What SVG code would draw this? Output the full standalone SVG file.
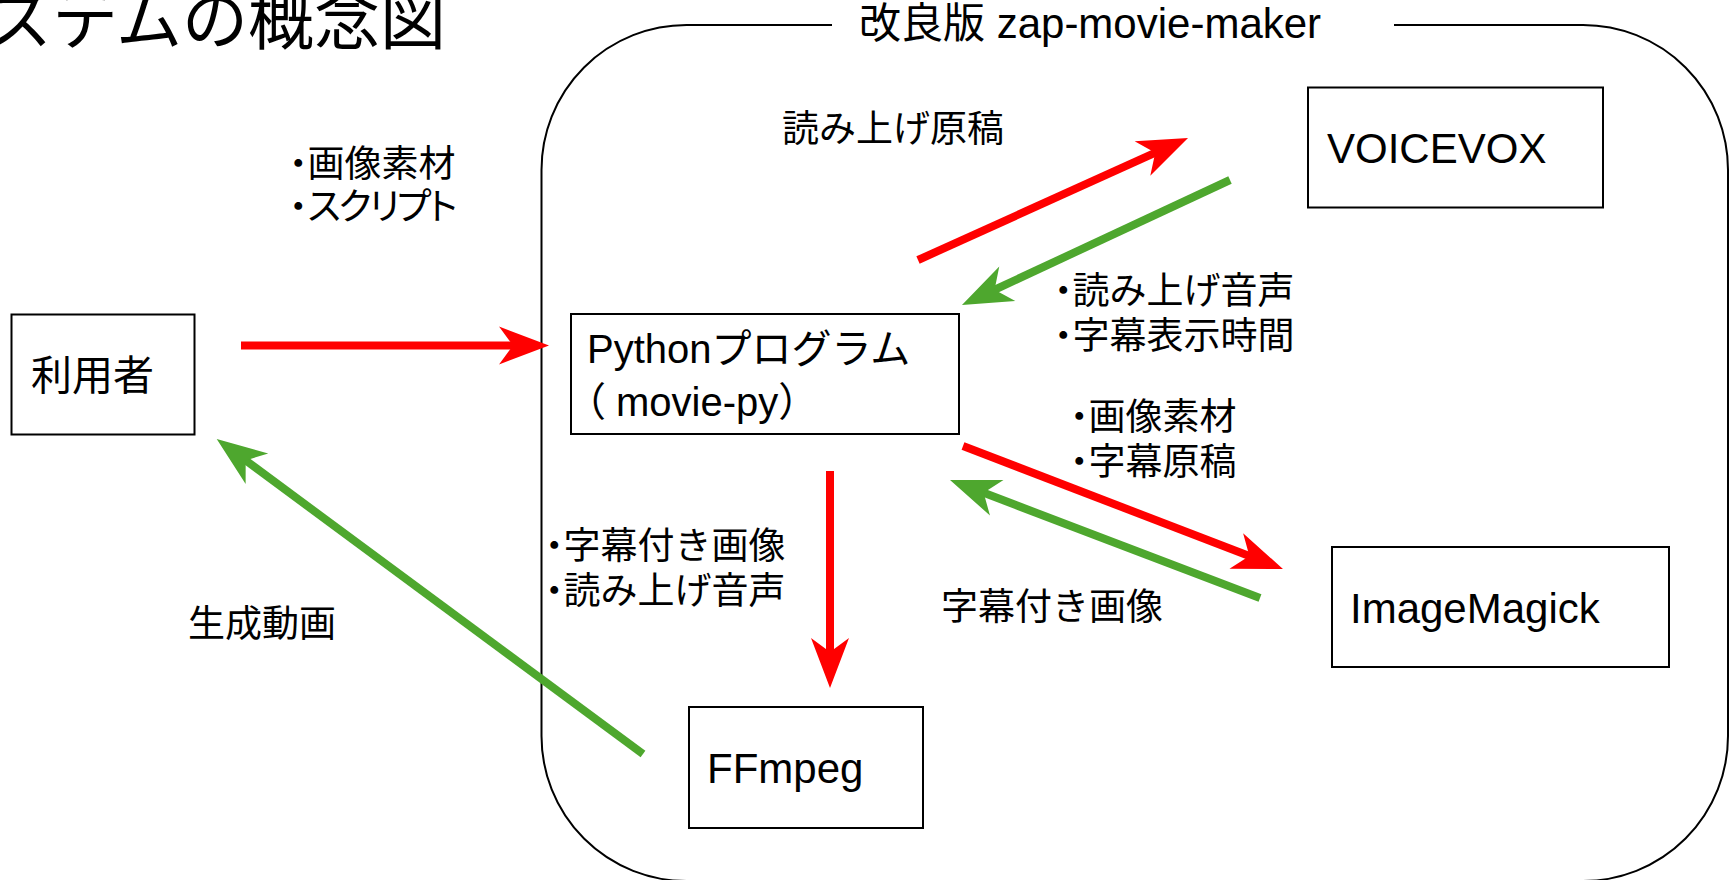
<svg xmlns="http://www.w3.org/2000/svg" width="1729" height="880" viewBox="0 0 1729 880">
<style>
text{font-family:"Liberation Sans","Noto Sans CJK JP",sans-serif;fill:#000}
.box{fill:#fff;stroke:#000;stroke-width:2}
.frame{fill:none;stroke:#000;stroke-width:2}
.n{font-size:42px}
.l{font-size:37px}
.b{font-feature-settings:"halt"}
.p{font-feature-settings:"palt";letter-spacing:-2.4px}
.red{stroke:#FF0000;stroke-width:8;fill:none}
.green{stroke:#4EA72E;stroke-width:8;fill:none}
</style>
<defs>
<marker id="ahr" markerUnits="userSpaceOnUse" orient="auto" overflow="visible" markerWidth="1" markerHeight="1" refX="0" refY="0"><path d="M20,0 L-30,-19 L-16,0 L-30,19 Z" fill="#FF0000"/></marker>
<marker id="ahg" markerUnits="userSpaceOnUse" orient="auto" overflow="visible" markerWidth="1" markerHeight="1" refX="0" refY="0"><path d="M20,0 L-30,-19 L-16,0 L-30,19 Z" fill="#4EA72E"/></marker>
</defs>
<rect width="1729" height="880" fill="#fff"/>
<text x="-14" y="44" font-size="66">ステムの概念図</text>
<g id="frame">
<path class="frame" d="M832,25 H686.5 A145,145 0 0 0 541.5,170 V736 A145,145 0 0 0 686.5,881 H1583 A145,145 0 0 0 1728,736 V170 A145,145 0 0 0 1583,25 H1394"/>
<text x="859" y="38" font-size="42">改良版 zap-movie-maker</text>
</g>
<g id="connectors">
<line class="red" x1="241" y1="345.5" x2="529" y2="345.5" marker-end="url(#ahr)"/>
<line class="red" x1="918" y1="260" x2="1169.8" y2="146.2" marker-end="url(#ahr)"/>
<line class="green" x1="1230" y1="180" x2="980.1" y2="296.5" marker-end="url(#ahg)"/>
<line class="red" x1="963" y1="446" x2="1264.3" y2="561.8" marker-end="url(#ahr)"/>
<line class="green" x1="1260" y1="598" x2="968.7" y2="487.1" marker-end="url(#ahg)"/>
<line class="red" x1="830" y1="471" x2="830" y2="668" marker-end="url(#ahr)"/>
<line class="green" x1="643" y1="754" x2="232.8" y2="450.9" marker-end="url(#ahg)"/>
</g>
<g id="labels">
<text class="l" x="289" y="177"><tspan class="b">・</tspan>画像素材</text>
<text class="l" x="289" y="220"><tspan class="b">・</tspan><tspan class="p">スクリプト</tspan></text>
<text class="l" x="782" y="142">読み上げ原稿</text>
<text class="l" x="1054" y="304"><tspan class="b">・</tspan>読み上げ音声</text>
<text class="l" x="1054" y="349"><tspan class="b">・</tspan>字幕表示時間</text>
<text class="l" x="1070" y="430"><tspan class="b">・</tspan>画像素材</text>
<text class="l" x="1070" y="475"><tspan class="b">・</tspan>字幕原稿</text>
<text class="l" x="941" y="620">字幕付き画像</text>
<text class="l" x="545" y="559"><tspan class="b">・</tspan>字幕付き画像</text>
<text class="l" x="545" y="604"><tspan class="b">・</tspan>読み上げ音声</text>
<text class="l" x="188" y="637">生成動画</text>
</g>
<g id="user">
<rect class="box" x="11.5" y="314.5" width="183" height="120"/>
<text x="31" y="390" font-size="41">利用者</text>
</g>
<g id="python">
<rect class="box" x="571" y="314" width="388" height="120"/>
<text x="587" y="363" font-size="40">Pythonプログラム</text>
<text y="416" font-size="40"><tspan x="566">（</tspan><tspan x="616">movie-py）</tspan></text>
</g>
<g id="voicevox">
<rect class="box" x="1308" y="87.5" width="295" height="120"/>
<text class="n" x="1327" y="163">VOICEVOX</text>
</g>
<g id="imagemagick">
<rect class="box" x="1332" y="547" width="337" height="120"/>
<text class="n" x="1350" y="623">ImageMagick</text>
</g>
<g id="ffmpeg">
<rect class="box" x="689" y="707" width="234" height="121"/>
<text class="n" x="707" y="783">FFmpeg</text>
</g>
</svg>
